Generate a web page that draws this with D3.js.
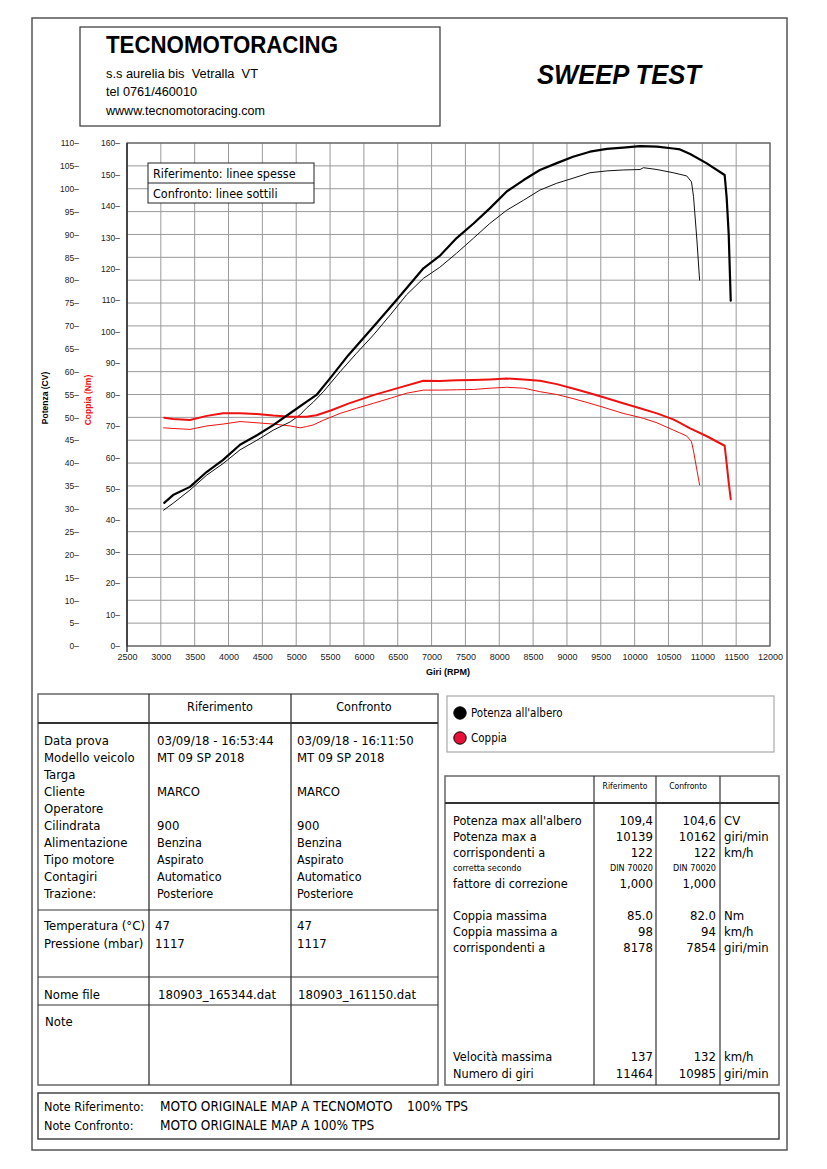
<!DOCTYPE html>
<html>
<head>
<meta charset="utf-8">
<script src="https://cdn.jsdelivr.net/npm/d3@7"></script>
<style>
  html, body { margin: 0; padding: 0; background: #fff; }
  svg { display: block; }
  .narrow { font-family: 'Liberation Sans Narrow', 'Liberation Sans', Arial, sans-serif; }
  .verd { font-family: 'DejaVu Sans Condensed', 'DejaVu Sans', Verdana, sans-serif; font-stretch: condensed; }
</style>
</head>
<body>
<div id="chart"></div>
<script>
// ---------------- DATA ----------------
const rpmTicks = d3.range(2500, 12001, 500);
const powerTicks = d3.range(0, 111, 5);
const torqueTicks = d3.range(0, 161, 10);

// Riferimento (linee spesse)
const refRpm = [3050,3180,3430,3680,3920,4170,4420,4660,4910,5150,5300,5520,5770,6140,6460,6880,7120,7370,7620,7860,8110,8360,8600,8850,9090,9340,9590,9830,10080,10330,10570,10670,10820,11060,11330,11360,11390,11420];
const refPower = [31.3,33.0,34.8,38.1,40.7,44.0,46.1,48.3,50.9,53.4,54.9,58.9,63.6,69.8,75.3,82.6,85.3,89.2,92.4,95.7,99.4,101.9,104.1,105.6,107.0,108.1,108.7,109.0,109.3,109.2,108.8,108.6,107.6,105.6,103.0,98.0,90.0,75.5];
const refTorque = [72.6,72.2,71.9,73.2,74.0,74.0,73.8,73.3,72.9,72.9,73.4,75.0,77.1,79.8,81.8,84.4,84.3,84.5,84.6,84.8,85.1,84.8,84.4,83.3,81.9,80.4,78.8,77.2,75.6,74.0,72.1,71.0,69.2,66.8,63.7,58.0,52.0,46.7];

// Confronto (linee sottili)
const cmpRpm = [3040,3180,3430,3680,3920,4170,4420,4660,4910,5060,5150,5250,5400,5650,5890,6140,6390,6630,6880,7120,7370,7620,7860,8110,8360,8600,8850,9090,9340,9590,9830,10080,10130,10330,10570,10770,10840,10870,10920,10960];
const cmpPower = [29.7,31.2,34.1,37.4,39.9,42.9,45.0,47.2,49.0,50.6,52.0,53.3,55.6,60.0,64.0,68.0,72.4,76.8,80.4,82.8,85.9,89.2,92.4,95.3,97.5,99.7,101.2,102.3,103.5,103.9,104.1,104.2,104.6,104.2,103.5,102.8,101.5,98.3,88.8,80.0];
const cmpTorque = [69.4,69.2,68.9,70.0,70.6,71.4,71.0,70.6,70.0,69.4,69.8,70.3,71.8,74.0,75.6,77.2,78.8,80.4,81.4,81.4,81.5,81.6,82.0,82.3,82.0,80.9,80.0,78.7,77.2,75.6,74.0,72.7,72.4,71.0,68.7,66.8,65.0,62.0,56.0,51.2];

// Tabella info
const infoLabels = ["Data prova","Modello veicolo","Targa","Cliente","Operatore","Cilindrata","Alimentazione","Tipo motore","Contagiri","Trazione:"];
const infoRef = ["03/09/18 - 16:53:44","MT 09 SP 2018","","MARCO","","900","Benzina","Aspirato","Automatico","Posteriore"];
const infoCmp = ["03/09/18 - 16:11:50","MT 09 SP 2018","","MARCO","","900","Benzina","Aspirato","Automatico","Posteriore"];
const envLabels = ["Temperatura (°C)","Pressione (mbar)"];
const envRef = ["47","1117"];
const envCmp = ["47","1117"];
const fileRef = "180903_165344.dat";
const fileCmp = "180903_161150.dat";

// Tabella risultati
const resLabels = ["Potenza max all'albero","Potenza max a","corrispondenti a","corretta secondo","fattore di correzione","Coppia massima","Coppia massima a","corrispondenti a","Velocità massima","Numero di giri"];
const resRef = ["109,4","10139","122","DIN 70020","1,000","85.0","98","8178","137","11464"];
const resCmp = ["104,6","10162","122","DIN 70020","1,000","82.0","94","7854","132","10985"];
const resUnits = ["CV","giri/min","km/h","","","Nm","km/h","giri/min","km/h","giri/min"];

const legendItems = ["Potenza all'albero","Coppia"];
const noteRefText = ["MOTO ORIGINALE MAP A TECNOMOTO","100% TPS"];
const noteCmpText = "MOTO ORIGINALE MAP A 100% TPS";

// ---------------- DRAW ----------------
const W = 827, H = 1169;
const RED = "#ee1111";
const svg = d3.select("#chart").append("svg").attr("width", W).attr("height", H);

// outer frame
svg.append("rect").attr("x", 32).attr("y", 18).attr("width", 755).attr("height", 1132)
  .attr("fill", "none").attr("stroke", "#555").attr("stroke-width", 1.5);

// header box
svg.append("rect").attr("x", 80).attr("y", 27).attr("width", 360).attr("height", 99)
  .attr("fill", "none").attr("stroke", "#333").attr("stroke-width", 1.2);
svg.append("text").attr("class", "narrow").attr("x", 106).attr("y", 53)
  .attr("font-size", 23).attr("font-weight", "bold").attr("textLength", 232).attr("lengthAdjust", "spacingAndGlyphs")
  .text("TECNOMOTORACING");
const addr = [["s.s aurelia bis  Vetralla  VT", 78, 152], ["tel 0761/460010", 96, 91], ["wwww.tecnomotoracing.com", 115, 159]];
addr.forEach(a => svg.append("text").attr("class", "narrow").attr("x", 106).attr("y", a[1])
  .attr("font-size", 12.5).attr("textLength", a[2]).attr("lengthAdjust", "spacingAndGlyphs")
  .style("white-space", "pre").text(a[0]));
svg.append("text").attr("class", "narrow").attr("x", 537).attr("y", 84)
  .attr("font-size", 27).attr("font-weight", "bold").attr("font-style", "italic")
  .attr("textLength", 164).attr("lengthAdjust", "spacingAndGlyphs").text("SWEEP TEST");

// ---------------- CHART ----------------
const pl = 127, pr = 770, pt = 143, pb = 646;
const x = d3.scaleLinear().domain([2500, 12000]).range([pl, pr]);
const yP = d3.scaleLinear().domain([0, 110]).range([pb, pt]);
const yT = d3.scaleLinear().domain([0, 160]).range([pb, pt]);

const grid = svg.append("g");
grid.selectAll("line.v").data(rpmTicks).join("line")
  .attr("x1", d => x(d)).attr("x2", d => x(d)).attr("y1", pt).attr("y2", pb)
  .attr("stroke", "#9a9a9a").attr("stroke-width", 1);
grid.selectAll("line.h").data(powerTicks).join("line")
  .attr("x1", pl).attr("x2", pr).attr("y1", d => yP(d)).attr("y2", d => yP(d))
  .attr("stroke", "#9a9a9a").attr("stroke-width", 1);
svg.append("rect").attr("x", pl).attr("y", pt).attr("width", pr - pl).attr("height", pb - pt)
  .attr("fill", "none").attr("stroke", "#666").attr("stroke-width", 1.3);
svg.append("line").attr("x1", pl).attr("x2", pl).attr("y1", pt).attr("y2", pb + 6)
  .attr("stroke", "#222").attr("stroke-width", 1.3);

// axes
const axP = d3.axisLeft(yP).tickValues(powerTicks).tickSize(0).tickPadding(0).tickFormat(d => d + "–");
const gP = svg.append("g").attr("transform", `translate(79,0)`).call(axP);
const axT = d3.axisLeft(yT).tickValues(torqueTicks).tickSize(0).tickPadding(0).tickFormat(d => d + "–");
const gT = svg.append("g").attr("transform", `translate(120,0)`).call(axT);
[gP, gT].forEach(g => {
  g.select(".domain").remove();
  g.selectAll("text").attr("class", "narrow").attr("font-size", 8.5).attr("fill", "#222").attr("font-family", null);
});
const axX = d3.axisBottom(x).tickValues(rpmTicks).tickSize(0).tickPadding(0).tickFormat(d => d);
const gX = svg.append("g").attr("transform", `translate(0,${pb + 8})`).call(axX);
gX.select(".domain").remove();
gX.selectAll("text").attr("class", "narrow").attr("font-size", 9).attr("fill", "#222").attr("font-family", null);

svg.append("text").attr("class", "narrow").attr("x", 448).attr("y", 675).attr("text-anchor", "middle")
  .attr("font-size", 9).attr("font-weight", "bold").text("Giri (RPM)");
svg.append("text").attr("class", "narrow").attr("transform", "translate(48,398) rotate(-90)")
  .attr("text-anchor", "middle").attr("font-size", 8.5).attr("font-weight", "bold").text("Potenza (CV)");
svg.append("text").attr("class", "narrow").attr("transform", "translate(91,400) rotate(-90)")
  .attr("text-anchor", "middle").attr("font-size", 8.5).attr("font-weight", "bold").attr("fill", RED).text("Coppia (Nm)");

// curves
function drawCurve(rpm, vals, yScale, color, w) {
  const pts = rpm.map((r, i) => [r, vals[i]]);
  const line = d3.line().x(d => x(d[0])).y(d => yScale(d[1]));
  svg.append("path").attr("d", line(pts)).attr("fill", "none").attr("stroke", color)
    .attr("stroke-width", w).attr("stroke-linejoin", "round").attr("stroke-linecap", "round");
}
drawCurve(cmpRpm, cmpTorque, yT, RED, 1);
drawCurve(cmpRpm, cmpPower, yP, "#111", 1);
drawCurve(refRpm, refTorque, yT, RED, 2);
drawCurve(refRpm, refPower, yP, "#000", 2.2);

// legend inside plot
svg.append("rect").attr("x", 148).attr("y", 163).attr("width", 166).attr("height", 40)
  .attr("fill", "#fff").attr("stroke", "#222").attr("stroke-width", 1);
svg.append("line").attr("x1", 148).attr("x2", 314).attr("y1", 183).attr("y2", 183).attr("stroke", "#222");
svg.append("text").attr("class", "verd").attr("x", 153).attr("y", 178).attr("font-size", 12.5).text("Riferimento: linee spesse");
svg.append("text").attr("class", "verd").attr("x", 153).attr("y", 198).attr("font-size", 12.5).text("Confronto: linee sottili");

// ---------------- LEFT TABLE ----------------
const lt = svg.append("g").attr("class", "verd");
lt.append("rect").attr("x", 38).attr("y", 694).attr("width", 400).attr("height", 391)
  .attr("fill", "none").attr("stroke", "#666").attr("stroke-width", 1.5);
[149, 291].forEach(cx => lt.append("line").attr("x1", cx).attr("x2", cx).attr("y1", 694).attr("y2", 1085).attr("stroke", "#222").attr("stroke-width", 1.2));
[[723, 2], [910, 1.2], [977, 1.2], [1005, 1.2]].forEach(h => lt.append("line").attr("x1", 38).attr("x2", 438)
  .attr("y1", h[0]).attr("y2", h[0]).attr("stroke", "#333").attr("stroke-width", h[1]));
lt.append("text").attr("x", 220).attr("y", 711).attr("text-anchor", "middle").attr("font-size", 12.5).text("Riferimento");
lt.append("text").attr("x", 364).attr("y", 711).attr("text-anchor", "middle").attr("font-size", 12.5).text("Confronto");
infoLabels.forEach((l, i) => {
  const yy = 744.5 + i * 17;
  lt.append("text").attr("x", 44).attr("y", yy).attr("font-size", 13).text(l);
  lt.append("text").attr("x", 157).attr("y", yy).attr("font-size", i >= 6 ? 12.5 : 13).text(infoRef[i]);
  lt.append("text").attr("x", 297).attr("y", yy).attr("font-size", i >= 6 ? 12.5 : 13).text(infoCmp[i]);
});
envLabels.forEach((l, i) => {
  const yy = 929.5 + i * 18;
  lt.append("text").attr("x", 44).attr("y", yy).attr("font-size", 13).text(l);
  lt.append("text").attr("x", 155).attr("y", yy).attr("font-size", 13).text(envRef[i]);
  lt.append("text").attr("x", 297).attr("y", yy).attr("font-size", 13).text(envCmp[i]);
});
lt.append("text").attr("x", 44).attr("y", 998.5).attr("font-size", 13).text("Nome file");
lt.append("text").attr("x", 158).attr("y", 998.5).attr("font-size", 13).text(fileRef);
lt.append("text").attr("x", 298).attr("y", 998.5).attr("font-size", 13).text(fileCmp);
lt.append("text").attr("x", 45).attr("y", 1025.5).attr("font-size", 13).text("Note");

// ---------------- LEGEND BOX ----------------
const lg = svg.append("g").attr("class", "verd");
lg.append("rect").attr("x", 447).attr("y", 696).attr("width", 327).attr("height", 56)
  .attr("fill", "none").attr("stroke", "#aaa").attr("stroke-width", 1.2);
const legendColors = ["#000", "#e8103a"];
legendItems.forEach((t, i) => {
  const cy = 713 + i * 25;
  lg.append("circle").attr("cx", 460).attr("cy", cy).attr("r", 6.2).attr("fill", legendColors[i]).attr("stroke", "#000").attr("stroke-width", 1);
  lg.append("text").attr("x", 471).attr("y", cy + 4).attr("font-size", 11.5).text(t);
});

// ---------------- RIGHT TABLE ----------------
const rt = svg.append("g").attr("class", "verd");
rt.append("rect").attr("x", 445).attr("y", 776).attr("width", 334).attr("height", 309)
  .attr("fill", "none").attr("stroke", "#666").attr("stroke-width", 1.5);
[594, 656, 720].forEach(cx => rt.append("line").attr("x1", cx).attr("x2", cx).attr("y1", 776).attr("y2", 1085).attr("stroke", "#333").attr("stroke-width", 1.2));
rt.append("line").attr("x1", 445).attr("x2", 779).attr("y1", 803).attr("y2", 803).attr("stroke", "#333").attr("stroke-width", 2.2);
rt.append("text").attr("x", 625).attr("y", 789).attr("text-anchor", "middle").attr("font-size", 8.5).text("Riferimento");
rt.append("text").attr("x", 688).attr("y", 789).attr("text-anchor", "middle").attr("font-size", 8.5).text("Confronto");
const resY = [820, 836, 852, 868, 883, 915, 931, 947, 1056, 1073];
resLabels.forEach((l, i) => {
  const small = i === 3;
  const yy = resY[i] + (small ? 3 : 4.5);
  rt.append("text").attr("x", 453).attr("y", yy).attr("font-size", small ? 9 : 12.6).text(l);
  rt.append("text").attr("x", 653).attr("y", yy).attr("text-anchor", "end").attr("font-size", small ? 9 : 13).text(resRef[i]);
  rt.append("text").attr("x", 716).attr("y", yy).attr("text-anchor", "end").attr("font-size", small ? 9 : 13).text(resCmp[i]);
  if (resUnits[i]) rt.append("text").attr("x", 724).attr("y", yy).attr("font-size", 13).text(resUnits[i]);
});

// ---------------- NOTES BOX ----------------
const nb = svg.append("g").attr("class", "verd");
nb.append("rect").attr("x", 38).attr("y", 1093).attr("width", 741).attr("height", 46)
  .attr("fill", "none").attr("stroke", "#444").attr("stroke-width", 1.5);
nb.append("text").attr("x", 44).attr("y", 1111).attr("font-size", 12.5).text("Note Riferimento:");
nb.append("text").attr("x", 160).attr("y", 1111).attr("font-size", 13.5).text(noteRefText[0]);
nb.append("text").attr("x", 407).attr("y", 1111).attr("font-size", 13.5).text(noteRefText[1]);
nb.append("text").attr("x", 44).attr("y", 1130).attr("font-size", 12.5).text("Note Confronto:");
nb.append("text").attr("x", 160).attr("y", 1130).attr("font-size", 13.5).text(noteCmpText);
</script>
</body>
</html>
